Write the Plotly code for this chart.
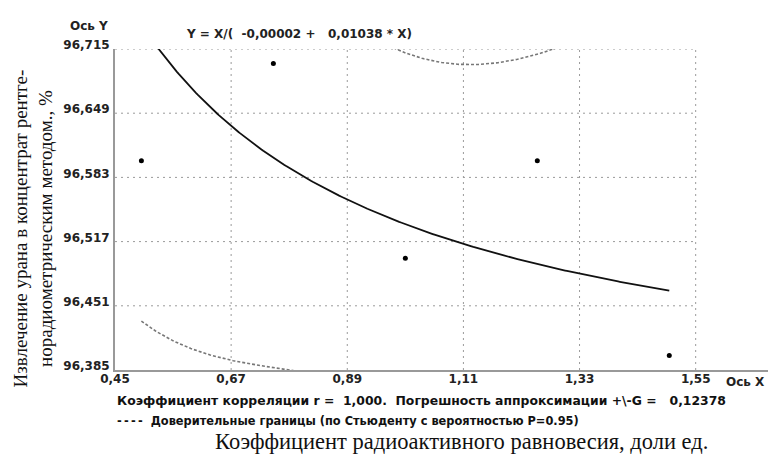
import numpy as np
import plotly.graph_objects as go

# ---- data ----
x_data = [0.50, 0.75, 1.00, 1.25, 1.50]
y_data = [96.60, 96.70, 96.50, 96.60, 96.40]

x_ticks = [0.45, 0.67, 0.89, 1.11, 1.33, 1.55]
x_tick_text = ["0,45", "0,67", "0,89", "1,11", "1,33", "1,55"]
y_ticks = [96.385, 96.451, 96.517, 96.583, 96.649, 96.715]
y_tick_text = ["96,385", "96,451", "96,517", "96,583", "96,649", "96,715"]

equation_text = "Y = X/(\u00a0\u00a0-0,00002 +\u00a0\u00a0\u00a00,01038 * X)"
corr_text = ("Коэффициент корреляции r =\u00a0\u00a01,000.\u00a0\u00a0Погрешность аппроксимации "
             "+\\-G =\u00a0\u00a0 0,12378")
band_text = "-\u2009-\u2009-\u2009-\u00a0 Доверительные границы (по Стьюденту с вероятностью P=0.95)"
y_title = "Извлечение урана в концентрат рентге-<br>норадиометрическим методом., %"
x_title = "Коэффициент радиоактивного равновесия, доли ед."
t_student = 3.182  # P=0.95, 3 degrees of freedom

# ---- fit Y = X/(a + b X) via linearisation X/Y = a + b X ----
X = np.array(x_data)
Y = np.array(y_data)
b, a = np.polyfit(X, X / Y, 1)
xs = np.linspace(X.min(), X.max(), 300)
y_fit = xs / (a + b * xs)
resid = Y - X / (a + b * X)
G = np.sqrt(np.sum(resid ** 2) / (len(X) - 2))
half = t_student * G * np.sqrt(1 / len(X) + (xs - X.mean()) ** 2 / np.sum((X - X.mean()) ** 2))

fig = go.Figure()
fig.add_trace(go.Scatter(x=xs, y=y_fit + half, mode="lines",
                         line=dict(color="#777777", width=1.6, dash="3px,2px"), hoverinfo="skip"))
fig.add_trace(go.Scatter(x=xs, y=y_fit - half, mode="lines",
                         line=dict(color="#777777", width=1.6, dash="3px,2px"), hoverinfo="skip"))
fig.add_trace(go.Scatter(x=xs, y=y_fit, mode="lines",
                         line=dict(color="#111111", width=1.8)))
fig.add_trace(go.Scatter(x=x_data, y=y_data, mode="markers",
                         marker=dict(color="#000000", size=5)))

# dotted grid limited to the tick span
grid_line = dict(color="#9a9a9a", width=1, dash="2px,4px")
shapes = []
for yv in y_ticks[1:]:
    shapes.append(dict(type="line", xref="x", yref="y", x0=x_ticks[0], x1=x_ticks[-1], y0=yv, y1=yv,
                       line=grid_line, layer="below"))
for xv in x_ticks[1:]:
    shapes.append(dict(type="line", xref="x", yref="y", x0=xv, x1=xv, y0=y_ticks[0], y1=y_ticks[-1],
                       line=grid_line, layer="below"))

sans = "DejaVu Sans"
serif = "Liberation Serif"
bold = dict(family=sans, size=12, color="#222222", weight="bold")

annotations = [
    dict(text="Ось Y", xref="paper", yref="paper", x=-0.040, y=1.072, showarrow=False,
         xanchor="center", yanchor="middle", font=bold),
    dict(text="Ось X", xref="paper", yref="paper", x=0.965, y=-0.036, showarrow=False,
         xanchor="center", yanchor="middle", font=bold),
    dict(text=equation_text, xref="paper", yref="paper", x=0.106, y=1.047, showarrow=False,
         xanchor="left", yanchor="middle", font=bold),
    dict(text=corr_text, xref="paper", yref="paper", x=0.0, y=-0.095, showarrow=False,
         xanchor="left", yanchor="middle", font=dict(family=sans, size=12.4, color="#111111", weight="bold")),
    dict(text=band_text, xref="paper", yref="paper", x=0.0, y=-0.158, showarrow=False,
         xanchor="left", yanchor="middle", font=dict(family=sans, size=11.4, color="#111111", weight="bold")),
    dict(text=x_title, xref="paper", yref="paper", x=0.53, y=-0.222, showarrow=False,
         xanchor="center", yanchor="middle", font=dict(family=serif, size=22.5, color="#111111")),
    dict(text=y_title, xref="paper", yref="paper", x=-0.125, y=0.442, showarrow=False,
         xanchor="center", yanchor="middle", textangle=-90,
         font=dict(family=serif, size=19, color="#111111")),
]

fig.update_layout(
    width=782, height=454, autosize=False,
    margin=dict(l=107, r=22, t=41, b=92),
    paper_bgcolor="white", plot_bgcolor="white",
    showlegend=False,
    shapes=shapes,
    annotations=annotations,
    xaxis=dict(range=[0.45, 1.687], tickvals=x_ticks, ticktext=x_tick_text, showgrid=False,
               zeroline=False, showline=True, linecolor="#999999", linewidth=2,
               ticks="", tickfont=bold, ticklabelstandoff=-3),
    yaxis=dict(range=[y_ticks[0], y_ticks[-1]], tickvals=y_ticks, ticktext=y_tick_text,
               showgrid=False, zeroline=False, showline=True, linecolor="#999999", linewidth=2,
               ticks="", tickfont=bold, ticklabelstandoff=1, ticklabelshift=-4),
)

fig.write_html("out.html")
